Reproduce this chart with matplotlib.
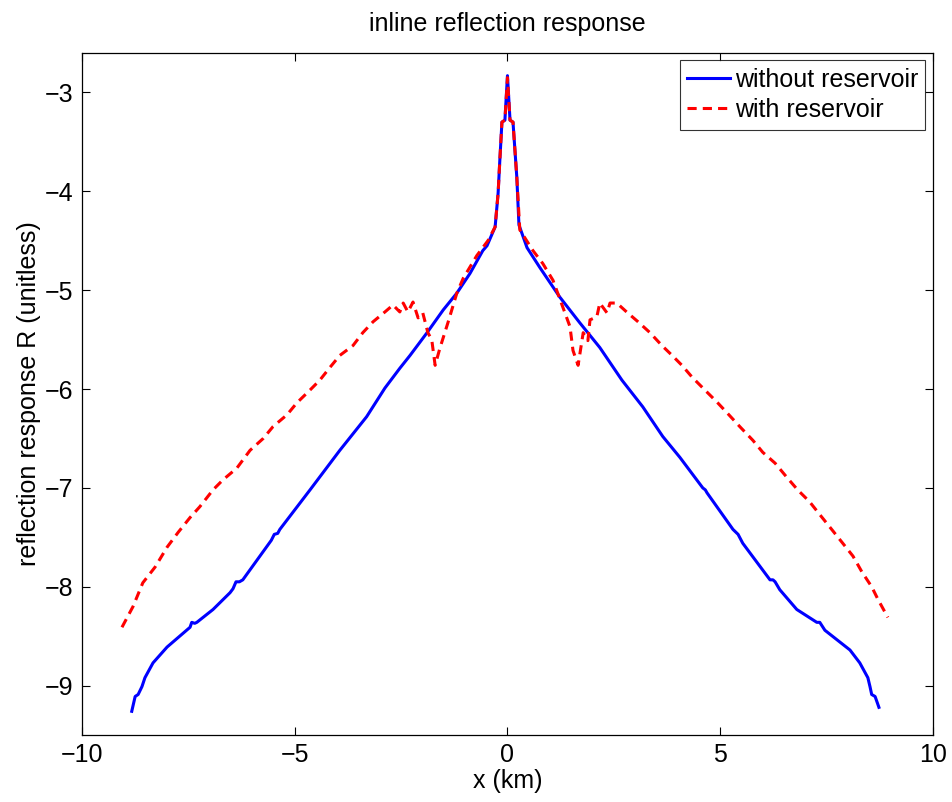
import matplotlib
matplotlib.use("Agg")
import numpy as np
import matplotlib.pyplot as plt

plt.rcParams['font.family'] = ['Liberation Sans', 'DejaVu Sans']

# curve without reservoir
x_without = [-8.83, -8.75, -8.68, -8.59, -8.52, -8.33, -8.00, -7.46, -7.42, -7.35, -7.30,
             -6.92, -6.52, -6.45, -6.38, -6.30, -6.22, -5.55, -5.48, -5.40, -5.35, -4.64,
             -3.94, -3.31, -2.88, -2.53, -2.29, -1.89, -1.51, -1.19, -0.88, -0.58, -0.48,
             -0.29, -0.22, -0.18, -0.13, -0.06, 0.0,
             0.06, 0.13, 0.22, 0.27, 0.46, 0.76, 1.23, 1.70, 2.17, 2.69, 3.18, 3.65, 4.05,
             4.59, 4.65, 4.69, 5.30, 5.42, 5.53, 6.17, 6.24, 6.29, 6.40, 6.80, 7.27, 7.34,
             7.46, 8.05, 8.28, 8.47, 8.52, 8.56, 8.64, 8.73]
y_without = [-9.26, -9.11, -9.09, -9.01, -8.92, -8.77, -8.61, -8.41, -8.36, -8.37, -8.36,
             -8.23, -8.06, -8.02, -7.95, -7.95, -7.93, -7.53, -7.47, -7.46, -7.42, -7.02,
             -6.62, -6.28, -5.99, -5.79, -5.66, -5.43, -5.20, -5.03, -4.83, -4.60, -4.55,
             -4.36, -4.02, -3.69, -3.30, -3.28, -2.83,
             -3.28, -3.30, -3.86, -4.34, -4.57, -4.77, -5.07, -5.33, -5.58, -5.91, -6.18,
             -6.48, -6.69, -7.00, -7.02, -7.05, -7.42, -7.47, -7.56, -7.93, -7.93, -7.95,
             -8.03, -8.23, -8.36, -8.36, -8.44, -8.64, -8.77, -8.92, -9.01, -9.09, -9.11,
             -9.22]

# curve with reservoir
x_with = [-9.06, -8.80, -8.57, -8.28, -8.00, -7.74, -7.46, -7.23, -6.92, -6.69, -6.36,
          -6.05, -5.74, -5.51, -5.18, -4.95, -4.64, -4.41, -4.17, -3.94, -3.63, -3.40,
          -3.16, -2.88, -2.69, -2.53, -2.45, -2.34, -2.22, -2.10, -1.99, -1.87, -1.78,
          -1.70, -1.59, -1.40, -1.19, -1.04, -0.72, -0.46, -0.29, -0.22, -0.18, -0.13,
          -0.06, 0.0,
          0.06, 0.13, 0.22, 0.29, 0.60, 0.83, 1.07, 1.30, 1.47, 1.54, 1.66, 1.78, 1.89,
          1.94, 2.10, 2.17, 2.34, 2.41, 2.57, 2.80, 3.07, 3.35, 3.63, 3.87, 4.10, 4.34,
          4.64, 4.92, 5.16, 5.46, 5.77, 6.00, 6.29, 6.56, 6.82, 7.10, 7.34, 7.62, 7.88,
          8.12, 8.33, 8.56, 8.71, 8.94]
y_with = [-8.41, -8.20, -7.96, -7.80, -7.60, -7.45, -7.30, -7.19, -7.02, -6.92, -6.80,
          -6.62, -6.50, -6.38, -6.26, -6.14, -6.01, -5.91, -5.78, -5.66, -5.56, -5.43,
          -5.32, -5.22, -5.15, -5.22, -5.13, -5.22, -5.12, -5.28, -5.23, -5.43, -5.50,
          -5.76, -5.59, -5.33, -5.03, -4.88, -4.65, -4.50, -4.36, -4.02, -3.69, -3.30,
          -3.28, -2.85,
          -3.28, -3.30, -3.86, -4.39, -4.60, -4.73, -4.90, -5.17, -5.37, -5.61, -5.76,
          -5.43, -5.51, -5.30, -5.27, -5.13, -5.23, -5.13, -5.13, -5.22, -5.32, -5.43,
          -5.56, -5.66, -5.76, -5.88, -6.01, -6.13, -6.24, -6.38, -6.52, -6.64, -6.75,
          -6.89, -7.02, -7.14, -7.27, -7.42, -7.56, -7.69, -7.85, -8.00, -8.13, -8.31]

fig = plt.figure(figsize=(9.52, 8.02), dpi=100)
ax = fig.add_axes([0.0861, 0.0835, 0.8939, 0.8505])

ax.plot(x_without, y_without, color=(0, 0, 1), lw=2.2, label="without reservoir")
ax.plot(x_with, y_with, color=(1, 0, 0), lw=2.2, dashes=(3, 2), label="with reservoir")

ax.set_xlim(-10, 10)
ax.set_ylim(-9.5, -2.6)
ax.set_xticks([-10, -5, 0, 5, 10])
ax.set_yticks([-9, -8, -7, -6, -5, -4, -3])
ax.tick_params(direction='in', top=True, right=True, labelsize=18, length=6, width=0.8, pad=6)
for s in ax.spines.values():
    s.set_linewidth(0.9)

ax.set_xlabel("x (km)", fontsize=18, labelpad=1)
ax.set_ylabel("reflection response R (unitless)", fontsize=18, labelpad=3)
ax.set_title("inline reflection response", fontsize=18, pad=16)

leg = ax.legend(loc='upper right', fontsize=18, frameon=True, fancybox=False,
                edgecolor='black', borderaxespad=0.3, handlelength=1.7,
                handletextpad=0.2, borderpad=0.3, labelspacing=0.25)
leg.get_frame().set_linewidth(0.8)

plt.savefig("out.png", dpi=100)
